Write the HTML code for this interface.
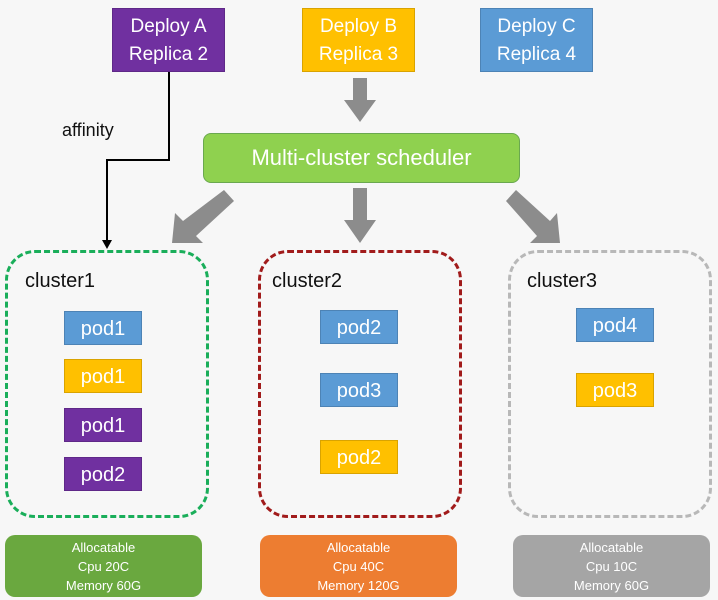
<!DOCTYPE html>
<html><head><style>
body{margin:0;width:718px;height:600px;background:#f7f7f7;position:relative;overflow:hidden;font-family:"Liberation Sans",sans-serif}
.b{position:absolute;color:#fff;text-align:center;box-sizing:border-box}
.dep{top:8px;width:113px;height:64px;font-size:19px;line-height:28px;padding-top:4px;border:1px solid rgba(0,0,0,.15)}
.pod{width:78px;height:34px;font-size:20px;line-height:34px;border:1px solid rgba(0,0,0,.15)}
.cl{position:absolute;top:250px;width:204px;height:268px;border:3px dashed;border-radius:30px;box-sizing:border-box}
.lab{position:absolute;top:270px;font-size:20px;color:#111}
.al{top:535px;width:197px;height:62px;border-radius:10px;font-size:13px;line-height:19px;padding-top:3px}
.bl{background:#5b9bd5}.ye{background:#ffc000}.pu{background:#7030a0}
</style></head><body>
<div class="b dep pu" style="left:112px">Deploy A<br>Replica 2</div>
<div class="b dep ye" style="left:302px">Deploy B<br>Replica 3</div>
<div class="b dep bl" style="left:480px">Deploy C<br>Replica 4</div>
<div class="b" style="left:203px;top:133px;width:317px;height:50px;background:#8fd14f;border:1px solid #6aa84f;border-radius:8px;font-size:22px;line-height:48px">Multi-cluster scheduler</div>
<div style="position:absolute;left:62px;top:120px;font-size:18px;color:#111">affinity</div>
<svg width="718" height="600" style="position:absolute;left:0;top:0">
<polyline points="169,72 169,160 107,160 107,242" fill="none" stroke="#000" stroke-width="2"/>
<polygon points="102,240 112,240 107,249" fill="#000"/>
<g fill="#8c8c8c">
<polygon points="353,78 367,78 367,100 376,100 360,122 344,100 353,100"/>
<polygon points="353,188 367,188 367,220 376,220 360,243 344,220 353,220"/>
<polygon points="224,190 234,201 196,236 203,243 172,243 175,213 183,221"/>
<polygon points="506,201 516,190 550,221 557,213 560,243 530,243 537,236"/>
</g>
</svg>
<div class="cl" style="left:5px;border-color:#1aae5a"></div>
<div class="cl" style="left:258px;border-color:#a11b1b"></div>
<div class="cl" style="left:508px;border-color:#b8b8b8"></div>
<div class="lab" style="left:25px">cluster1</div>
<div class="lab" style="left:272px">cluster2</div>
<div class="lab" style="left:527px">cluster3</div>
<div class="b pod bl" style="left:64px;top:311px">pod1</div>
<div class="b pod ye" style="left:64px;top:359px">pod1</div>
<div class="b pod pu" style="left:64px;top:408px">pod1</div>
<div class="b pod pu" style="left:64px;top:457px">pod2</div>
<div class="b pod bl" style="left:320px;top:310px">pod2</div>
<div class="b pod bl" style="left:320px;top:373px">pod3</div>
<div class="b pod ye" style="left:320px;top:440px">pod2</div>
<div class="b pod bl" style="left:576px;top:308px">pod4</div>
<div class="b pod ye" style="left:576px;top:373px">pod3</div>
<div class="b al" style="left:5px;background:#6aa83f">Allocatable<br>Cpu 20C<br>Memory 60G</div>
<div class="b al" style="left:260px;background:#ed7d31">Allocatable<br>Cpu 40C<br>Memory 120G</div>
<div class="b al" style="left:513px;background:#a5a5a5">Allocatable<br>Cpu 10C<br>Memory 60G</div>
</body></html>
